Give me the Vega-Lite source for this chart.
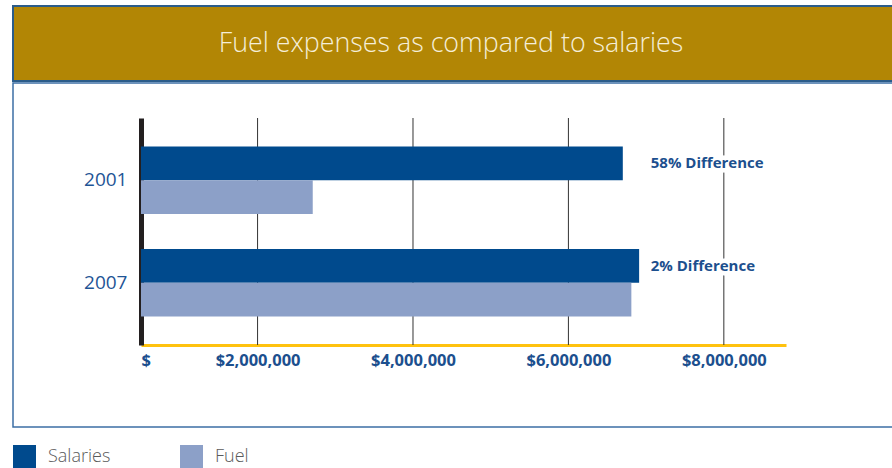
{
  "$schema": "https://vega.github.io/schema/vega-lite/v6.json",
  "padding": {"left": 12, "top": 5, "right": 0, "bottom": 0},
  "background": "white",
  "config": {"font": "Open Sans", "concat": {"spacing": 0}},
  "vconcat": [
    {
      "width": 880,
      "height": 75,
      "view": {"fill": "#B28605", "stroke": "#2B5C8A", "strokeWidth": 2},
      "data": {"values": [{"title": "Fuel expenses as compared to salaries"}]},
      "mark": {"type": "text", "fontSize": 26.8, "font": "Open Sans", "fontWeight": 300, "color": "#F5EED8", "baseline": "middle", "align": "center", "dx": -2},
      "encoding": {"text": {"field": "title"}}
    },
    {
      "width": 880,
      "height": 344,
      "view": {"stroke": "#3C6FA5", "strokeWidth": 1.5},
      "resolve": {"scale": {"y": "independent"}},
      "layer": [
        {
          "data": {"values": [{"tick": 2000000}, {"tick": 4000000}, {"tick": 6000000}, {"tick": 8000000}]},
          "mark": {"type": "rule", "color": "#333333", "strokeWidth": 1},
          "encoding": {
            "x": {"field": "tick", "type": "quantitative", "scale": {"domain": [500000, 8800000], "range": [128, 773], "zero": false, "nice": false}},
            "y": {"datum": 0, "type": "quantitative", "scale": {"domain": [0, 1], "range": [35, 262]}, "axis": null},
            "y2": {"datum": 1}
          }
        },
        {
          "layer": [
            {
              "data": {"values": [
                {"year": "2001", "series": "Salaries", "value": 6700000},
                {"year": "2001", "series": "Fuel", "value": 2710000},
                {"year": "2007", "series": "Salaries", "value": 6910000},
                {"year": "2007", "series": "Fuel", "value": 6810000}
              ]},
              "mark": {"type": "bar"},
              "encoding": {
                "y": {"field": "year", "type": "nominal", "scale": {"range": [35, 262], "paddingInner": 0.343, "paddingOuter": 0.279},
                  "axis": {"orient": "left", "offset": -128, "title": null, "ticks": false, "domainColor": "#231F20", "domainWidth": 5, "labelFontSize": 19, "labelColor": "#1F5596", "labelPadding": 14, "labelFont": "Open Sans"}},
                "yOffset": {"field": "series", "type": "nominal", "scale": {"domain": ["Salaries", "Fuel"]}},
                "x": {"field": "value", "type": "quantitative", "scale": {"domain": [500000, 8800000], "range": [128, 773], "zero": false, "nice": false},
                  "axis": {"orient": "bottom", "offset": -82, "title": null, "ticks": false, "grid": false, "domainColor": "#FFC20E", "domainWidth": 3, "values": [500000, 2000000, 4000000, 6000000, 8000000], "labelExpr": "datum.value == 500000 ? '$' : '$' + format(datum.value, ',')", "labelFontSize": 16.5, "labelFontWeight": "bold", "labelColor": "#1C4F8E", "labelPadding": 7}},
                "x2": {"datum": 500000},
                "color": {"field": "series", "type": "nominal", "scale": {"domain": ["Salaries", "Fuel"], "range": ["#004A8D", "#8CA0C8"]},
                  "legend": {"orient": "bottom", "direction": "horizontal", "title": null, "symbolType": "square", "symbolSize": 529, "symbolStrokeWidth": 0, "symbolOpacity": 1, "labelFontSize": 18, "labelColor": "#5A5A5A", "labelFont": "Open Sans", "labelFontWeight": 300, "labelOffset": 12, "offset": 17, "columnPadding": 69, "gridAlign": "all"}}
              }
            },
            {
              "data": {"values": [
                {"year": "2001", "series": "Salaries", "label": "58% Difference"},
                {"year": "2007", "series": "Salaries", "label": "2% Difference"}
              ]},
              "mark": {"type": "text", "align": "left", "baseline": "middle", "fontSize": 15, "fontWeight": "bold", "color": "white", "stroke": "white", "strokeWidth": 9},
              "encoding": {
                "y": {"field": "year", "type": "nominal"},
                "yOffset": {"field": "series", "type": "nominal"},
                "x": {"datum": 7060000, "type": "quantitative"},
                "text": {"field": "label"}
              }
            },
            {
              "data": {"values": [
                {"year": "2001", "series": "Salaries", "label": "58% Difference"},
                {"year": "2007", "series": "Salaries", "label": "2% Difference"}
              ]},
              "mark": {"type": "text", "align": "left", "baseline": "middle", "fontSize": 15, "fontWeight": "bold", "color": "#1C4F8E"},
              "encoding": {
                "y": {"field": "year", "type": "nominal"},
                "yOffset": {"field": "series", "type": "nominal"},
                "x": {"datum": 7060000, "type": "quantitative"},
                "text": {"field": "label"}
              }
            }
          ]
        }
      ]
    }
  ]
}
